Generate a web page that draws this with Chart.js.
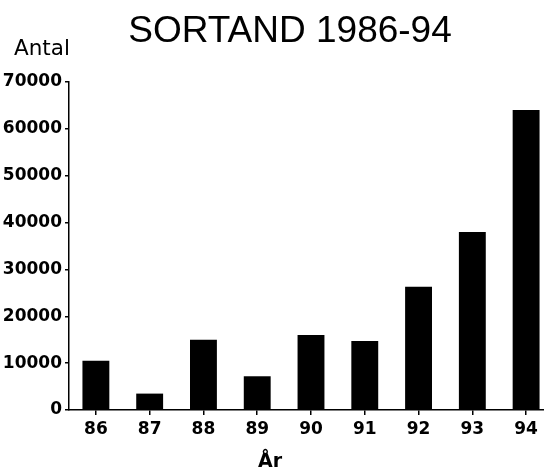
<!DOCTYPE html>
<html>
<head>
<meta charset="utf-8">
<script src="https://cdn.jsdelivr.net/npm/chart.js@4/dist/chart.umd.min.js"></script>
<style>
  html, body { margin: 0; padding: 0; background: #fff; overflow: hidden; }
  #wrap { width: 544px; height: 470px; position: relative; overflow: hidden; }
  #c { position: absolute; left: 0; top: 0; }
</style>
</head>
<body>
<div id="wrap"><canvas id="c" width="553" height="470"></canvas></div>
<script>
const titleText = 'SORTAND 1986-94';
const yLabel = 'Antal';
const xLabel = 'År';
const categories = ['86', '87', '88', '89', '90', '91', '92', '93', '94'];
const values = [10500, 3500, 15000, 7200, 16000, 14700, 26300, 38000, 64000];
const yTicks = [0, 10000, 20000, 30000, 40000, 50000, 60000, 70000];

const textPlugin = {
  id: 'texts',
  afterDraw(chart) {
    const ctx = chart.ctx;
    ctx.save();
    ctx.fillStyle = '#000';
    ctx.textBaseline = 'alphabetic';
    ctx.font = '37px "Liberation Sans", Arial, sans-serif';
    ctx.textAlign = 'center';
    ctx.fillText(titleText, 290, 42);
    ctx.font = '21.5px "DejaVu Sans", sans-serif';
    ctx.textAlign = 'left';
    ctx.fillText(yLabel, 14, 55);
    ctx.font = 'bold 19px "DejaVu Sans", sans-serif';
    ctx.textAlign = 'center';
    ctx.fillText(xLabel, 270, 467);
    ctx.restore();
  }
};

const bgPlugin = {
  id: 'bg',
  beforeDraw(chart) {
    const ctx = chart.ctx;
    ctx.save();
    ctx.fillStyle = '#fff';
    ctx.fillRect(0, 0, chart.width, chart.height);
    ctx.restore();
  }
};

new Chart(document.getElementById('c'), {
  type: 'bar',
  data: {
    labels: categories,
    datasets: [{
      data: values,
      backgroundColor: '#000',
      borderWidth: 0,
      barPercentage: 0.5,
      categoryPercentage: 1.0
    }]
  },
  options: {
    responsive: false,
    animation: false,
    devicePixelRatio: 1,
    layout: { padding: { top: 82, left: 0, right: 0, bottom: 0 } },
    plugins: { legend: { display: false }, title: { display: false }, tooltip: { enabled: false } },
    scales: {
      x: {
        offset: true,
        grid: { display: true, drawOnChartArea: false, offset: false, color: '#000', tickLength: 5, lineWidth: 1.5 },
        border: { display: true, color: '#000', width: 1.5 },
        ticks: { color: '#000', padding: 4, font: { family: '"DejaVu Sans", sans-serif', size: 17, weight: 'bold' } },
        afterFit(s) { s.height = 60; }
      },
      y: {
        min: 0, max: 70000,
        afterBuildTicks(s) { s.ticks = yTicks.map(v => ({ value: v })); },
        grid: { display: true, drawOnChartArea: false, color: '#000', tickLength: 4, lineWidth: 1.5 },
        border: { display: true, color: '#000', width: 1.5 },
        ticks: { color: '#000', padding: 3, font: { family: '"DejaVu Sans", sans-serif', size: 17, weight: 'bold' }, callback: v => String(v) },
        afterFit(s) { s.width = 69; }
      }
    }
  },
  plugins: [bgPlugin, textPlugin]
});
</script>
</body>
</html>
